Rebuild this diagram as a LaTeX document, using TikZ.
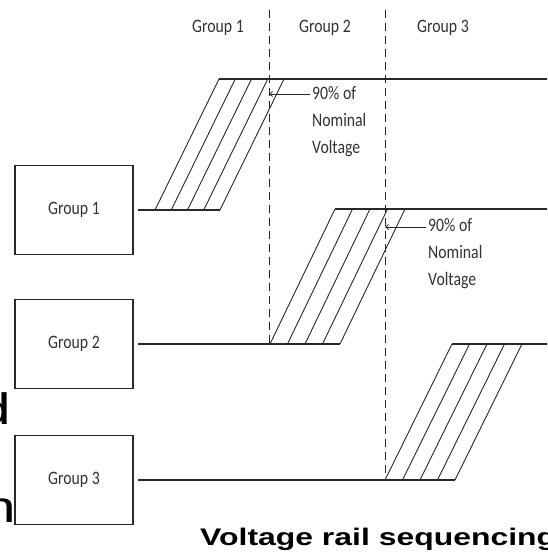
\documentclass[tikz,border=0pt]{standalone}
\usepackage{fontspec}
\setmainfont{Liberation Sans}
\newfontfamily\grpfont[FakeStretch=0.83]{Carlito}
\newfontfamily\capfont[FakeStretch=1.33]{Liberation Sans}
\usetikzlibrary{positioning,arrows.meta}
\definecolor{rail-grey}{RGB}{40,40,40}
\definecolor{label-grey}{RGB}{50,50,50}

\begin{document}
\begin{tikzpicture}[x=1pt,y=-1pt,
    rail/.style={draw=rail-grey, line width=1.2},
    slant/.style={draw=rail-grey, line width=0.9},
    guide/.style={draw=rail-grey, line width=1, dash pattern=on 8pt off 5pt},
    grouplbl/.style={text=label-grey, inner sep=0pt, font=\grpfont\fontsize{19}{27}\selectfont},
    groupbox/.style={grouplbl, draw=rail-grey, line width=1.3, minimum width=118, minimum height=89},
    pointer/.style={draw=rail-grey, line width=0.8, -{Straight Barb[length=3pt,width=5pt]}}]
    \useasboundingbox (0,0) rectangle (547,556);
    \clip (0,0) rectangle (547,556);
    \coordinate (top) at (0,10);
    \coordinate (east) at (550,0);

    % column headers
    \node[grouplbl] (hdr1) at (218,28) {Group 1};
    \node[grouplbl] (hdr2) at (325,28) {Group 2};
    \node[grouplbl] (hdr3) at (443,28) {Group 3};

    % boxes, rails and ramps
    \foreach \g/\ylo/\xa/\yhi/\run/\gap in {1/210/155/79/64/16.25, 2/344/270/209/65/17.5, 3/480/385/344/67/17.5} {
        \node[groupbox] (box\g) at (74,\ylo) {Group \g};
        \coordinate (ramp\g) at (\xa,\ylo);
        \coordinate (peak\g) at (\xa+\run,\yhi);
        \draw[rail] ([xshift=4pt]box\g.east) -- ([xshift=4*\gap]ramp\g);
        \draw[rail] (peak\g) -- (peak\g -| east);
        \foreach \k in {0,...,4}
            \draw[slant] ([xshift=\k*\gap]ramp\g) -- ([xshift=\k*\gap]peak\g);
    }

    % group boundaries
    \draw[guide] ([xshift=-1pt]ramp2 |- top) -- ([xshift=-1pt]ramp2);
    \draw[guide] (ramp3 |- top) -- (ramp3);

    % 90% markers
    \coordinate (tip1) at (269,94);
    \coordinate (tip2) at (385,227);
    \node[grouplbl, align=left, anchor=west] (note1) at (312,122) {90\% of\\Nominal\\Voltage};
    \node[grouplbl, align=left, anchor=west] (note2) at (428,254) {90\% of\\Nominal\\Voltage};
    \draw[pointer] ([xshift=-2pt]note1.west |- tip1) -- (tip1);
    \draw[pointer] ([xshift=-2pt]note2.west |- tip2) -- (tip2);

    % caption and cut-off text
    \node[anchor=base west, inner sep=0pt, font=\capfont\bfseries\fontsize{24}{28}\selectfont] (caption) at (200,545) {Voltage rail sequencing};
    \node[anchor=base east, inner sep=0pt, font=\capfont\fontsize{44}{44}\selectfont] (frag1) at (11,424) {d};
    \node[anchor=base east, inner sep=0pt, font=\capfont\fontsize{44}{44}\selectfont] (frag2) at (16,522) {n};
\end{tikzpicture}
\end{document}
